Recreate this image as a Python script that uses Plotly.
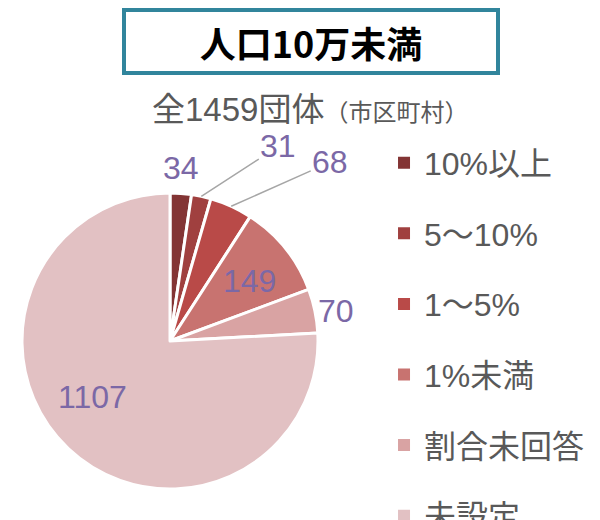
import math
import plotly.graph_objects as go

categories = ["10%以上", "5～10%", "1～5%", "1%未満", "割合未回答", "未設定"]
values = [34, 31, 68, 149, 70, 1107]
colors = ["#833434", "#A0403F", "#B94A48", "#C87370", "#D9A3A3", "#E2C1C3"]

title_text = "人口10万未満"
subtitle_main = "全1459団体"
subtitle_sub = "（市区町村）"

label_color = "#7B68A6"
grey = "#595959"
jp_font = "Noto Sans CJK JP"
mix_font = "Liberation Sans, Noto Sans CJK JP"
num_font = "Liberation Sans"

W, H = 600, 520
PAD = 8  # page body margin added by the browser
# pie geometry (figure pixels)
cx, cy, R = 170 - PAD, 341 - PAD, 148
dom_x = [(cx - R) / W, (cx + R) / W]
dom_y = [1 - (cy + R) / H, 1 - (cy - R) / H]

# label style per slice: (radius factor, leader-line text offset px or None, nudge px)
label_style = [
    (1.17, None, (-2, 0)),
    (1.0, (77, -50), (0, 0)),
    (1.0, (99, -44), (0, 0)),
    (0.67, None, (2, 2)),
    (1.145, None, (0, 5)),
    (0.64, None, (-12, -13)),
]

fig = go.Figure()
fig.add_trace(go.Pie(
    labels=categories, values=values, sort=False, direction="clockwise",
    rotation=0,
    marker=dict(colors=colors, line=dict(color="white", width=3)),
    textinfo="none",
    domain=dict(x=dom_x, y=dom_y),
    showlegend=False, hoverinfo="skip",
))

for i, (c, col) in enumerate(zip(categories, colors)):
    fig.add_trace(go.Scatter(
        x=[None], y=[None], mode="markers", name=c,
        marker=dict(symbol="square", size=13, color=col),
        legendgroup=f"g{i}", showlegend=True,
    ))

annotations = [
    dict(text=f"<b>{title_text}</b>", xref="paper", yref="paper",
         x=(311 - PAD) / W, y=1 - (41 - PAD) / H, xanchor="center", yanchor="middle",
         showarrow=False, font=dict(family=jp_font, size=36, color="black"),
         width=368, height=57, bordercolor="#31859C", borderwidth=4,
         bgcolor="white"),
    dict(text=f"{subtitle_main}<span style='font-size:24px;font-family:Noto Sans CJK JP'>{subtitle_sub}</span>",
         xref="paper", yref="paper", x=(310 - PAD) / W, y=1 - (110 - PAD) / H,
         xanchor="center", yanchor="middle", showarrow=False,
         font=dict(family=mix_font, size=33, color=grey)),
]

total = sum(values)
cum = 0
for i, v in enumerate(values):
    mid = (cum + v / 2) / total * 2 * math.pi
    cum += v
    rf, off, nudge = label_style[i]
    px = cx + rf * R * math.sin(mid) + nudge[0]
    py = cy - rf * R * math.cos(mid) + nudge[1]
    a = dict(text=str(v), xref="paper", yref="paper", x=px / W, y=1 - py / H,
             font=dict(family=num_font, size=32, color=label_color))
    if off is None:
        a.update(showarrow=False, xanchor="center", yanchor="middle")
    else:
        a.update(showarrow=True, arrowhead=0, arrowwidth=1.5, arrowcolor="#A6A6A6",
                 ax=off[0], ay=off[1], standoff=0, startstandoff=0)
    annotations.append(a)

fig.update_layout(
    width=W, height=H,
    margin=dict(l=0, r=0, t=0, b=0, autoexpand=False),
    paper_bgcolor="white", plot_bgcolor="white",
    xaxis=dict(visible=False), yaxis=dict(visible=False),
    legend=dict(
        x=0.6267, y=0.755, xanchor="left", yanchor="top",
        font=dict(family=mix_font, size=32, color=grey),
        tracegroupgap=26, itemsizing="constant", maxheight=1000,
        bgcolor="rgba(0,0,0,0)",
    ),
    annotations=annotations,
)

fig.write_html("out.html")
